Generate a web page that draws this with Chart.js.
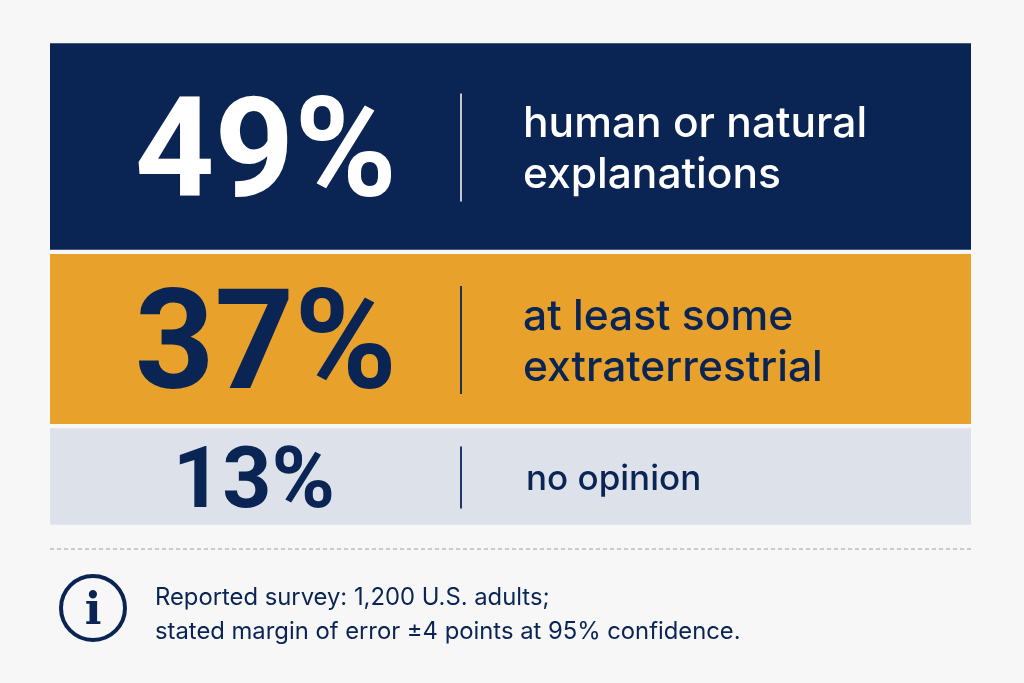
<!DOCTYPE html>
<html>
<head>
<meta charset="utf-8">
<script src="https://cdn.jsdelivr.net/npm/chart.js@4.4.1/dist/chart.umd.min.js"></script>
<style>
  html, body { margin: 0; padding: 0; background: #f7f7f8; }
  #wrap { position: relative; width: 1024px; height: 683px; }
</style>
</head>
<body>
<div id="wrap"><canvas id="chart" width="1024" height="683"></canvas></div>
<script>
// Survey answers, top band to bottom band
const answerValues = [49, 37, 13];
const answerLabels = [
  ['human or natural', 'explanations'],
  ['at least some', 'extraterrestrial'],
  ['no opinion']
];
const footnoteLines = [
  'Reported survey: 1,200 U.S. adults;',
  'stated margin of error \u00b14 points at 95% confidence.'
];

// Look and feel
const BG = '#f7f7f8';
const NAVY = '#0a2453';
const bandColors = ['#0a2453', '#e8a22c', '#dde2ea'];
const textColors = ['#ffffff', NAVY, NAVY];
const numberSizes = [139, 139, 86];
const labelSizes = [42.5, 42.5, 35];
// floor added to each band so small shares still have room for their text
const BAND_FLOOR = 20;

const bandPlugin = {
  id: 'bandText',
  afterDatasetsDraw(chart) {
    const ctx = chart.ctx;
    const area = chart.chartArea;
    chart.data.datasets.forEach((ds, i) => {
      const bar = chart.getDatasetMeta(i).data[0];
      const { y, base } = bar.getProps(['y', 'base'], true);
      const cy = (y + base) / 2;
      const col = textColors[i];
      ctx.save();

      // big percentage
      const ns = numberSizes[i];
      ctx.fillStyle = col;
      ctx.font = `700 ${ns}px Roboto`;
      ctx.textAlign = 'center';
      ctx.textBaseline = 'alphabetic';
      const numX = area.left + (i === 2 ? 204 : 216);
      ctx.fillText(answerValues[i] + '%', numX, cy + ns * 0.711 / 2);

      // divider
      const divX = area.left + 411;
      const divH = i === 2 ? 62 : 108;
      ctx.strokeStyle = col;
      ctx.globalAlpha = i === 0 ? 0.75 : 0.9;
      ctx.lineWidth = 2;
      ctx.beginPath();
      ctx.moveTo(divX, cy + 1 - divH / 2);
      ctx.lineTo(divX, cy + 1 + divH / 2);
      ctx.stroke();
      ctx.globalAlpha = 1;

      // description
      const ls = labelSizes[i];
      const lines = answerLabels[i];
      const lh = ls * 1.2;
      ctx.font = `500 ${ls}px Inter`;
      ctx.textAlign = 'left';
      const first = cy - (lines.length - 1) * lh / 2 + ls * 0.38;
      const lx = area.left + (i === 2 ? 476 : 473);
      lines.forEach((t, k) => ctx.fillText(t, lx, first + k * lh));
      ctx.restore();
    });

    // dashed rule
    ctx.save();
    ctx.strokeStyle = '#b9bcc2';
    ctx.lineWidth = 1.5;
    ctx.setLineDash([4, 3]);
    ctx.beginPath();
    ctx.moveTo(area.left, 549);
    ctx.lineTo(area.right, 549);
    ctx.stroke();
    ctx.setLineDash([]);

    // info icon
    ctx.strokeStyle = NAVY;
    ctx.fillStyle = NAVY;
    ctx.lineWidth = 4;
    ctx.beginPath();
    ctx.arc(93, 608, 32, 0, Math.PI * 2);
    ctx.stroke();
    ctx.font = '700 44px "DejaVu Serif"';
    ctx.textAlign = 'center';
    ctx.fillText('i', 93, 624);

    // footnote
    ctx.font = '400 23.8px Inter';
    ctx.textAlign = 'left';
    footnoteLines.forEach((t, k) => ctx.fillText(t, 155, 605 + k * 34));
    ctx.restore();
  }
};

new Chart(document.getElementById('chart'), {
  type: 'bar',
  data: {
    labels: ['share'],
    datasets: answerValues.map((v, i) => ({
      label: answerLabels[i].join(' '),
      data: [v + BAND_FLOOR],
      backgroundColor: bandColors[i],
      borderColor: BG,
      borderWidth: { top: 2.5, bottom: 2.5, left: 0, right: 0 },
      borderSkipped: false,
      barPercentage: 1,
      categoryPercentage: 1
    }))
  },
  options: {
    responsive: false,
    animation: false,
    layout: { padding: { left: 50, right: 53, top: 41, bottom: 156 } },
    plugins: { legend: { display: false }, tooltip: { enabled: false } },
    scales: {
      x: { display: false, stacked: true },
      y: {
        display: false,
        stacked: true,
        reverse: true,
        min: 0,
        max: answerValues.reduce((a, v) => a + v + BAND_FLOOR, 0)
      }
    }
  },
  plugins: [bandPlugin]
});
</script>
</body>
</html>
